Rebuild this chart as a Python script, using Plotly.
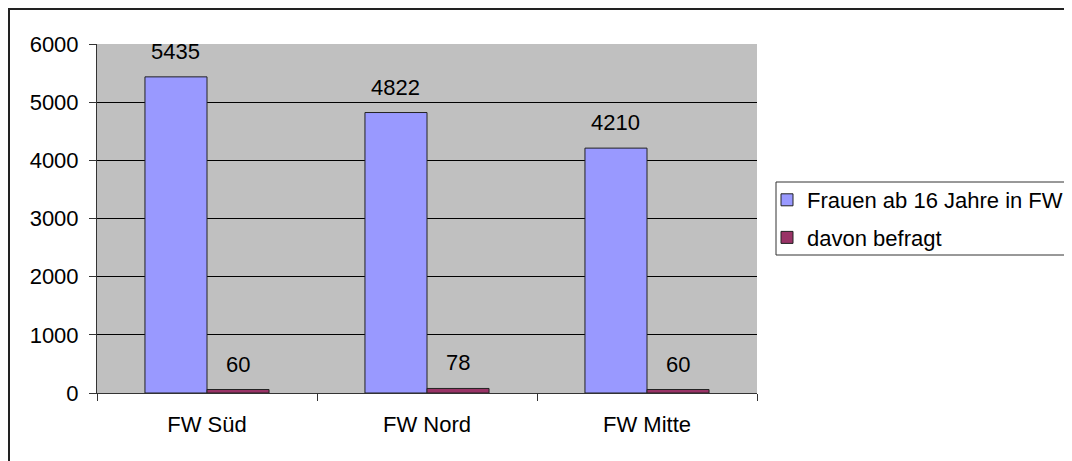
import plotly.graph_objects as go

categories = ["FW Süd", "FW Nord", "FW Mitte"]
frauen = [5435, 4822, 4210]
befragt = [60, 78, 60]
series_names = ["Frauen ab 16 Jahre in FW", "davon befragt"]
y_ticks = [0, 1000, 2000, 3000, 4000, 5000, 6000]

# page has an 8px body margin, figure starts at (8, 8)
W, H = 1064, 453
ML, MR, MT, MB = 89, 315, 36, 68
BARGAP = 0.436
FONT = dict(family="Liberation Sans, Arial, sans-serif", size=22, color="black")

fig = go.Figure()
fig.add_trace(go.Bar(x=categories, y=frauen, name=series_names[0],
                     marker=dict(color="#9999FF", line=dict(color="#222222", width=1)),
                     legendgroup="a"))
fig.add_trace(go.Bar(x=categories, y=befragt, name=series_names[1],
                     marker=dict(color="#993366", line=dict(color="#222222", width=1)),
                     legendgroup="b"))

plot_w = W - ML - MR
plot_h = H - MT - MB
cat_w = plot_w / len(categories)
bar_w = cat_w * (1 - BARGAP) / 2
annotations = []
for i, c in enumerate(categories):
    for vals, sh in ((frauen, -bar_w / 2), (befragt, bar_w / 2)):
        annotations.append(dict(x=c, y=vals[i], text=str(vals[i]), showarrow=False,
                                xref="x", yref="y", xshift=sh, yanchor="bottom",
                                yshift=11, font=FONT))

def px_x(p):
    return (p - ML) / plot_w

def px_y(p):
    return (H - MB - p) / plot_h

fig.update_layout(
    width=W, height=H,
    margin=dict(l=ML, r=MR, t=MT, b=MB, autoexpand=False),
    paper_bgcolor="white", plot_bgcolor="#C0C0C0",
    font=FONT,
    barmode="group", bargap=BARGAP, bargroupgap=0,
    showlegend=True,
    legend=dict(x=px_x(759), y=px_y(171),
                xanchor="left", yanchor="top",
                bgcolor="rgba(0,0,0,0)", borderwidth=0,
                font=FONT, traceorder="grouped", tracegroupgap=6,
                itemwidth=30),
    annotations=annotations,
    shapes=[
        # outer chart frame (left and top edges visible)
        dict(type="rect", xref="paper", yref="paper",
             x0=px_x(1), x1=px_x(W + 20), y0=px_y(H + 20), y1=px_y(1),
             line=dict(color="#222222", width=2), layer="below"),
        # legend frame
        dict(type="rect", xref="paper", yref="paper",
             x0=px_x(768), x1=px_x(W + 20), y0=px_y(247), y1=px_y(174),
             line=dict(color="#333333", width=1), fillcolor="white", layer="below"),
    ],
)
fig.update_xaxes(type="category", tickson="boundaries", ticks="outside", ticklen=7,
                 tickcolor="#333333", showline=True, linecolor="#333333", linewidth=1,
                 showgrid=False, ticklabelstandoff=12, tickfont=FONT)
fig.update_yaxes(range=[0, 6000], tickvals=y_ticks, ticks="outside", ticklen=7,
                 tickcolor="#333333", showline=True, linecolor="#333333", linewidth=1,
                 showgrid=True, gridcolor="black", gridwidth=1, zeroline=False,
                 ticklabelstandoff=6, tickfont=FONT)

fig.write_html("out.html")
